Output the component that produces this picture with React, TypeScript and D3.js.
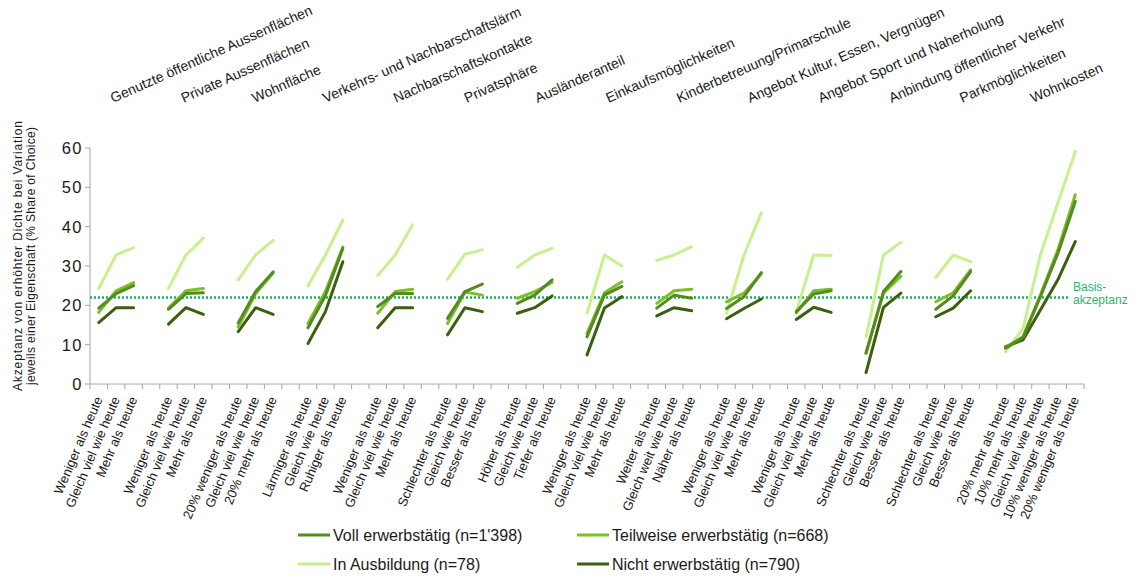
import { useEffect, useRef } from 'react';
import * as d3 from 'd3';

const groupTitles = [
  'Genutzte öffentliche Aussenflächen',
  'Private Aussenflächen',
  'Wohnfläche',
  'Verkehrs- und Nachbarschaftslärm',
  'Nachbarschaftskontakte',
  'Privatsphäre',
  'Ausländeranteil',
  'Einkaufsmöglichkeiten',
  'Kinderbetreuung/Primarschule',
  'Angebot Kultur, Essen, Vergnügen',
  'Angebot Sport und Naherholung',
  'Anbindung öffentlicher Verkehr',
  'Parkmöglichkeiten',
  'Wohnkosten',
];

const categoryLabels: string[][] = [
  ['Weniger als heute', 'Gleich viel wie heute', 'Mehr als heute'],
  ['Weniger als heute', 'Gleich viel wie heute', 'Mehr als heute'],
  ['20% weniger als heute', 'Gleich viel wie heute', '20% mehr als heute'],
  ['Lärmiger als heute', 'Gleich wie heute', 'Ruhiger als heute'],
  ['Weniger als heute', 'Gleich viel wie heute', 'Mehr als heute'],
  ['Schlechter als heute', 'Gleich wie heute', 'Besser als heute'],
  ['Höher als heute', 'Gleich wie heute', 'Tiefer als heute'],
  ['Weniger als heute', 'Gleich viel wie heute', 'Mehr als heute'],
  ['Weiter als heute', 'Gleich weit wie heute', 'Näher als heute'],
  ['Weniger als heute', 'Gleich viel wie heute', 'Mehr als heute'],
  ['Weniger als heute', 'Gleich viel wie heute', 'Mehr als heute'],
  ['Schlechter als heute', 'Gleich wie heute', 'Besser als heute'],
  ['Schlechter als heute', 'Gleich wie heute', 'Besser als heute'],
  ['20% mehr als heute', '10% mehr als heute', 'Gleich viel wie heute', '10% weniger als heute', '20% weniger als heute'],
];

// % Share of Choice per group
const vollErwerbstaetig: number[][] = [
  [19.3, 23.0, 25.0], [19.0, 23.0, 23.2], [15.5, 23.5, 28.5], [14.3, 22.5, 34.5],
  [19.7, 23.0, 23.0], [16.7, 23.5, 25.4], [20.5, 22.6, 26.5], [12.0, 22.6, 24.8],
  [19.3, 22.6, 21.8], [19.2, 22.2, 28.3], [18.4, 22.9, 23.7], [7.8, 23.5, 28.6],
  [19.0, 22.4, 28.6], [9.1, 11.8, 22.2, 33.2, 46.4],
];
const teilweiseErwerbstaetig: number[][] = [
  [18.2, 23.7, 25.8], [19.3, 23.7, 24.3], [14.5, 23.0, 28.2], [15.4, 23.5, 34.8],
  [18.0, 23.5, 24.1], [15.4, 23.4, 22.6], [21.8, 23.5, 25.8], [12.9, 23.2, 26.0],
  [20.5, 23.7, 24.1], [20.9, 23.1, 28.0], [18.1, 23.7, 24.1], [7.9, 23.1, 27.4],
  [20.9, 23.2, 29.0], [9.3, 12.0, 22.6, 34.1, 48.1],
];
const inAusbildung: number[][] = [
  [24.3, 32.8, 34.7], [24.3, 32.8, 37.1], [26.5, 32.8, 36.5], [25.0, 32.8, 41.7],
  [27.6, 32.8, 40.5], [26.6, 33.0, 34.1], [29.7, 32.8, 34.5], [18.0, 32.8, 30.0],
  [31.4, 32.8, 34.9], [18.0, 32.8, 43.5], [18.3, 32.8, 32.7], [12.0, 32.8, 36.0],
  [27.1, 32.8, 31.1], [8.2, 14.1, 32.8, 46.0, 59.1],
];
const nichtErwerbstaetig: number[][] = [
  [15.6, 19.4, 19.4], [15.2, 19.4, 17.7], [13.3, 19.4, 17.7], [10.3, 18.4, 31.1],
  [14.3, 19.4, 19.4], [12.5, 19.4, 18.4], [18.0, 19.4, 22.4], [7.4, 19.3, 22.2],
  [17.3, 19.4, 18.6], [16.6, 19.2, 21.6], [16.4, 19.5, 18.2], [2.9, 19.5, 23.1],
  [17.1, 19.3, 23.7], [9.5, 11.2, 18.8, 26.5, 36.2],
];

const seriesNames = [
  'Voll erwerbstätig (n=1\'398)',
  'Teilweise erwerbstätig (n=668)',
  'In Ausbildung (n=78)',
  'Nicht erwerbstätig (n=790)',
];
const seriesColors = ['#538c1d', '#7bbf29', '#c8f08f', '#3b5f10'];

const yTicks = [0, 10, 20, 30, 40, 50, 60];
const basisAkzeptanz = 22;

export default function App() {
  const svgRef = useRef<SVGSVGElement>(null);

  useEffect(() => {
    if (!svgRef.current) return;
    const width = 1139;
    const height = 578;
    const margin = { top: 148, right: 55, bottom: 194, left: 90 };

    const svg = d3.select(svgRef.current);
    svg.selectAll('*').remove();
    svg.attr('width', width).attr('height', height);

    // categories incl. one empty slot between groups
    const cats: { key: number; label: string; group: number; idx: number }[] = [];
    const catIndex: number[][] = [];
    categoryLabels.forEach((labels, g) => {
      catIndex.push([]);
      labels.forEach((label, i) => {
        catIndex[g].push(cats.length);
        cats.push({ key: cats.length, label, group: g, idx: i });
      });
      if (g < categoryLabels.length - 1) {
        cats.push({ key: cats.length, label: '', group: g, idx: -1 });
      }
    });

    const x = d3.scaleBand<number>()
      .domain(cats.map(c => c.key))
      .range([margin.left, width - margin.right])
      .paddingInner(0)
      .paddingOuter(0);
    const bw = x.bandwidth();
    const cx = (k: number) => (x(k) as number) + bw / 2;

    const y = d3.scaleLinear()
      .domain([0, 60])
      .range([height - margin.bottom, margin.top]);

    const axisColor = '#a6a6a6';
    const font = 'Arial, "Liberation Sans", sans-serif';

    // y axis
    svg.append('line')
      .attr('x1', margin.left).attr('x2', margin.left)
      .attr('y1', y(0)).attr('y2', y(60))
      .attr('stroke', axisColor);
    svg.selectAll('.ytick')
      .data(yTicks)
      .enter()
      .append('line')
      .attr('x1', margin.left - 5).attr('x2', margin.left)
      .attr('y1', d => y(d)).attr('y2', d => y(d))
      .attr('stroke', axisColor);
    svg.selectAll('.ylab')
      .data(yTicks)
      .enter()
      .append('text')
      .attr('x', margin.left - 7)
      .attr('y', d => y(d))
      .attr('dy', '0.36em')
      .attr('text-anchor', 'end')
      .style('font-family', font)
      .style('font-size', '16.5px')
      .attr('letter-spacing', '1.5')
      .attr('fill', '#1a1a1a')
      .text(d => d);

    // x axis with ticks between categories
    svg.append('line')
      .attr('x1', margin.left).attr('x2', width - margin.right)
      .attr('y1', y(0)).attr('y2', y(0))
      .attr('stroke', axisColor);
    svg.selectAll('.xtick')
      .data(d3.range(cats.length + 1))
      .enter()
      .append('line')
      .attr('x1', d => margin.left + d * bw).attr('x2', d => margin.left + d * bw)
      .attr('y1', y(0)).attr('y2', y(0) + 5)
      .attr('stroke', axisColor);

    svg.selectAll('.xlab')
      .data(cats.filter(c => c.label))
      .enter()
      .append('text')
      .attr('transform', d => `translate(${cx(d.key) + 4},${y(0) + 15}) rotate(-67)`)
      .attr('text-anchor', 'end')
      .style('font-family', font)
      .style('font-size', '13px')
      .attr('fill', '#1a1a1a')
      .text(d => d.label);

    // group titles at the top
    const tx = d3.scalePoint<string>()
      .domain(groupTitles)
      .range([113, 1033]);
    svg.selectAll('.gtitle')
      .data(groupTitles)
      .enter()
      .append('text')
      .attr('transform', d => `translate(${tx(d)},103) rotate(-24)`)
      .style('font-family', font)
      .style('font-size', '14px')
      .attr('fill', '#1a1a1a')
      .text(d => d);

    // y title
    const yTitle = svg.append('text')
      .attr('transform', `translate(22,256) rotate(-90)`)
      .attr('text-anchor', 'middle')
      .style('font-family', font)
      .style('font-size', '12px')
      .attr('fill', '#1a1a1a');
    yTitle.append('tspan').attr('x', 0).attr('y', 0)
      .attr('textLength', 270).attr('lengthAdjust', 'spacing')
      .text('Akzeptanz von erhöhter Dichte bei Variation');
    yTitle.append('tspan').attr('x', 0).attr('y', 13)
      .attr('textLength', 258).attr('lengthAdjust', 'spacing')
      .text('jeweils einer Eigenschaft (% Share of Choice)');

    // baseline
    svg.append('line')
      .attr('x1', margin.left).attr('x2', 1068)
      .attr('y1', y(basisAkzeptanz)).attr('y2', y(basisAkzeptanz))
      .attr('stroke', '#15b25a')
      .attr('stroke-width', 2.5)
      .attr('stroke-dasharray', '2 2');
    const bl = svg.append('text')
      .style('font-family', font)
      .style('font-size', '12px')
      .attr('fill', '#2db56a');
    bl.append('tspan').attr('x', 1073).attr('y', y(basisAkzeptanz) - 6).text('Basis-');
    bl.append('tspan').attr('x', 1073).attr('y', y(basisAkzeptanz) + 7).text('akzeptanz');

    // lines
    const allSeries = [inAusbildung, nichtErwerbstaetig, teilweiseErwerbstaetig, vollErwerbstaetig];
    const allColors = [seriesColors[2], seriesColors[3], seriesColors[1], seriesColors[0]];
    const line = d3.line<[number, number]>()
      .x(d => cx(d[0]))
      .y(d => y(d[1]));

    allSeries.forEach((series, s) => {
      series.forEach((vals, g) => {
        const pts: [number, number][] = vals.map((v, i) => [catIndex[g][i], v]);
        svg.append('path')
          .datum(pts)
          .attr('d', line)
          .attr('fill', 'none')
          .attr('stroke', allColors[s])
          .attr('stroke-width', 3)
          .attr('stroke-linecap', 'round')
          .attr('stroke-linejoin', 'round');
      });
    });

    // legend
    const legend = svg.append('g');
    seriesNames.forEach((name, i) => {
      const lx = i % 2 === 0 ? 298 : 577;
      const ly = i < 2 ? 535 : 564;
      legend.append('line')
        .attr('x1', lx).attr('x2', lx + 32)
        .attr('y1', ly).attr('y2', ly)
        .attr('stroke', seriesColors[i])
        .attr('stroke-width', 3);
      legend.append('text')
        .attr('x', lx + 35)
        .attr('y', ly)
        .attr('dy', '0.36em')
        .style('font-family', font)
        .style('font-size', '16px')
        .attr('fill', '#1a1a1a')
        .text(name);
    });
  }, []);

  return (
    <div style={{ position: 'absolute', left: 0, top: 0 }}>
      <svg ref={svgRef}></svg>
    </div>
  );
}
